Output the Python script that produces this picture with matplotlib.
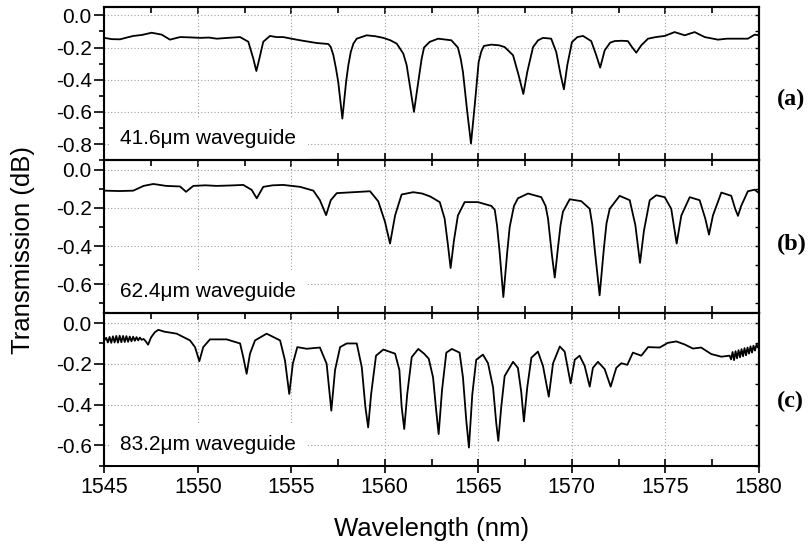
import matplotlib
matplotlib.use("Agg")
import matplotlib.pyplot as plt
from matplotlib.ticker import MultipleLocator

# ---- data (wavelength nm, transmission dB) ----
wl_a = [1545.00, 1545.40, 1545.84, 1546.20, 1546.55, 1547.00, 1547.53, 1548.07, 1548.51, 1549.05,
        1549.60, 1550.12, 1550.60, 1551.01, 1551.60, 1552.26, 1552.70, 1552.97, 1553.13, 1553.29,
        1553.50, 1553.86, 1554.20, 1554.57, 1555.00, 1555.47, 1556.36, 1556.98, 1557.11, 1557.25,
        1557.39, 1557.51, 1557.73, 1557.93, 1558.05, 1558.18, 1558.32, 1558.50, 1559.03, 1559.50,
        1559.92, 1560.30, 1560.64, 1560.99, 1561.17, 1561.31, 1561.56, 1561.79, 1561.97, 1562.10,
        1562.40, 1562.85, 1563.56, 1563.91, 1564.06, 1564.18, 1564.41, 1564.61, 1564.81, 1565.02,
        1565.16, 1565.30, 1565.70, 1566.10, 1566.41, 1566.86, 1567.16, 1567.41, 1567.62, 1567.93,
        1568.20, 1568.46, 1568.90, 1569.17, 1569.41, 1569.58, 1569.76, 1570.01, 1570.30, 1570.60,
        1571.04, 1571.31, 1571.52, 1571.76, 1572.05, 1572.29, 1572.65, 1573.00, 1573.22, 1573.45,
        1573.72, 1574.08, 1574.50, 1574.97, 1575.50, 1576.04, 1576.57, 1577.11, 1577.82, 1578.30,
        1578.71, 1579.42, 1579.78, 1580.00]
tr_a = [-0.140, -0.148, -0.149, -0.138, -0.128, -0.122, -0.108, -0.120, -0.151, -0.135,
        -0.137, -0.140, -0.138, -0.145, -0.140, -0.135, -0.164, -0.270, -0.346, -0.270,
        -0.164, -0.128, -0.135, -0.135, -0.145, -0.155, -0.172, -0.178, -0.197, -0.248,
        -0.331, -0.414, -0.642, -0.414, -0.310, -0.228, -0.176, -0.145, -0.124, -0.130,
        -0.140, -0.155, -0.176, -0.238, -0.310, -0.414, -0.600, -0.414, -0.270, -0.200,
        -0.165, -0.145, -0.155, -0.200, -0.270, -0.352, -0.600, -0.797, -0.559, -0.290,
        -0.225, -0.190, -0.182, -0.186, -0.197, -0.248, -0.373, -0.489, -0.352, -0.197,
        -0.155, -0.140, -0.145, -0.228, -0.373, -0.460, -0.310, -0.166, -0.135, -0.128,
        -0.160, -0.248, -0.325, -0.218, -0.170, -0.160, -0.158, -0.160, -0.197, -0.232,
        -0.186, -0.145, -0.135, -0.128, -0.104, -0.124, -0.104, -0.135, -0.151, -0.145,
        -0.145, -0.145, -0.120, -0.124]

wl_b = [1545.04, 1545.80, 1546.55, 1547.10, 1547.62, 1548.30, 1549.05, 1549.37, 1549.76, 1550.40,
        1551.01, 1551.70, 1552.43, 1552.88, 1553.15, 1553.50, 1554.00, 1554.57, 1555.47, 1556.18,
        1556.53, 1556.86, 1557.11, 1557.43, 1558.32, 1559.21, 1559.65, 1560.01, 1560.28, 1560.55,
        1560.90, 1561.52, 1562.00, 1562.42, 1562.94, 1563.20, 1563.38, 1563.52, 1563.70, 1563.91,
        1564.27, 1564.98, 1565.70, 1565.88, 1566.00, 1566.14, 1566.34, 1566.55, 1566.68, 1566.91,
        1567.12, 1567.66, 1568.37, 1568.60, 1568.73, 1568.94, 1569.09, 1569.26, 1569.40, 1569.53,
        1569.89, 1570.51, 1570.96, 1571.10, 1571.22, 1571.49, 1571.72, 1571.86, 1572.03, 1572.56,
        1573.10, 1573.40, 1573.65, 1573.86, 1574.17, 1574.52, 1574.97, 1575.32, 1575.61, 1575.86,
        1576.31, 1576.84, 1577.14, 1577.34, 1577.55, 1578.00, 1578.53, 1578.74, 1578.89, 1579.06,
        1579.42, 1579.78, 1580.00]
tr_b = [-0.110, -0.112, -0.110, -0.085, -0.075, -0.085, -0.088, -0.116, -0.085, -0.082,
        -0.085, -0.083, -0.080, -0.106, -0.150, -0.090, -0.082, -0.080, -0.090, -0.110,
        -0.160, -0.238, -0.160, -0.123, -0.118, -0.113, -0.166, -0.273, -0.387, -0.240,
        -0.130, -0.118, -0.125, -0.140, -0.170, -0.256, -0.396, -0.515, -0.370, -0.240,
        -0.170, -0.170, -0.190, -0.210, -0.290, -0.430, -0.667, -0.430, -0.300, -0.190,
        -0.150, -0.125, -0.144, -0.190, -0.256, -0.448, -0.565, -0.410, -0.290, -0.220,
        -0.155, -0.165, -0.205, -0.290, -0.410, -0.658, -0.410, -0.280, -0.205, -0.137,
        -0.160, -0.290, -0.488, -0.320, -0.160, -0.134, -0.144, -0.205, -0.387, -0.240,
        -0.144, -0.160, -0.256, -0.340, -0.240, -0.120, -0.137, -0.205, -0.242, -0.190,
        -0.113, -0.105, -0.122]

wl_c = [1545.00, 1545.10, 1545.19, 1545.28, 1545.37, 1545.46, 1545.55, 1545.64, 1545.73, 1545.82,
        1545.91, 1546.00, 1546.09, 1546.18, 1546.27, 1546.36, 1546.45, 1546.54, 1546.63, 1546.72,
        1546.81, 1546.90, 1546.99, 1547.10, 1547.22, 1547.34, 1547.50, 1547.70, 1547.89, 1548.20,
        1548.87, 1549.58, 1549.85, 1550.08, 1550.29, 1550.65, 1551.54, 1552.26, 1552.43, 1552.61,
        1552.79, 1553.06, 1553.68, 1554.40, 1554.66, 1554.89, 1555.08, 1555.32, 1555.82, 1556.53,
        1556.89, 1557.14, 1557.34, 1557.61, 1557.96, 1558.50, 1558.77, 1558.96, 1559.11, 1559.27,
        1559.53, 1559.92, 1560.55, 1560.78, 1560.90, 1561.04, 1561.20, 1561.44, 1561.79, 1562.10,
        1562.35, 1562.58, 1562.75, 1562.88, 1563.06, 1563.29, 1563.59, 1564.00, 1564.18, 1564.36,
        1564.50, 1564.68, 1564.89, 1565.25, 1565.52, 1565.79, 1565.96, 1566.07, 1566.23, 1566.41,
        1566.86, 1567.12, 1567.30, 1567.44, 1567.62, 1567.84, 1568.19, 1568.46, 1568.77, 1569.00,
        1569.36, 1569.62, 1569.94, 1570.16, 1570.42, 1570.69, 1570.96, 1571.13, 1571.40, 1571.76,
        1572.08, 1572.38, 1572.65, 1572.97, 1573.27, 1573.72, 1574.08, 1574.70, 1575.14, 1575.59,
        1576.04, 1576.48, 1576.92, 1577.46, 1578.00, 1578.44, 1578.52, 1578.60, 1578.68, 1578.76,
        1578.84, 1578.92, 1579.00, 1579.08, 1579.16, 1579.24, 1579.32, 1579.40, 1579.48, 1579.56,
        1579.64, 1579.72, 1579.80, 1579.88, 1579.96, 1580.00]
tr_c = [-0.085, -0.072, -0.095, -0.068, -0.097, -0.065, -0.095, -0.063, -0.096, -0.062,
        -0.094, -0.063, -0.093, -0.064, -0.092, -0.066, -0.089, -0.067, -0.087, -0.069,
        -0.085, -0.071, -0.082, -0.078, -0.090, -0.106, -0.070, -0.045, -0.033, -0.042,
        -0.052, -0.085, -0.118, -0.187, -0.118, -0.080, -0.080, -0.100, -0.167, -0.249,
        -0.150, -0.085, -0.052, -0.085, -0.183, -0.348, -0.200, -0.118, -0.126, -0.120,
        -0.200, -0.430, -0.230, -0.118, -0.100, -0.100, -0.217, -0.410, -0.512, -0.348,
        -0.160, -0.130, -0.150, -0.230, -0.410, -0.520, -0.348, -0.167, -0.127, -0.150,
        -0.175, -0.266, -0.430, -0.545, -0.330, -0.145, -0.127, -0.145, -0.266, -0.480,
        -0.611, -0.350, -0.180, -0.155, -0.197, -0.315, -0.490, -0.578, -0.410, -0.260,
        -0.190, -0.220, -0.340, -0.483, -0.315, -0.170, -0.140, -0.210, -0.361, -0.197,
        -0.115, -0.140, -0.296, -0.180, -0.160, -0.210, -0.312, -0.220, -0.190, -0.226,
        -0.312, -0.220, -0.197, -0.205, -0.145, -0.160, -0.118, -0.120, -0.097, -0.090,
        -0.105, -0.125, -0.120, -0.152, -0.165, -0.160, -0.178, -0.142, -0.182, -0.138,
        -0.173, -0.133, -0.168, -0.128, -0.163, -0.123, -0.158, -0.120, -0.150, -0.114,
        -0.145, -0.111, -0.135, -0.106, -0.120, -0.100]

labels = ["41.6\u03bcm waveguide", "62.4\u03bcm waveguide", "83.2\u03bcm waveguide"]
tags = ["(a)", "(b)", "(c)"]
ylims = [(-0.9, 0.05), (-0.75, 0.05), (-0.7, 0.05)]
tag_y = [0.40, 0.445, 0.42]

plt.rcParams['font.family'] = ['Liberation Sans', 'DejaVu Sans']

fig, axes = plt.subplots(3, 1, sharex=True, figsize=(8.12, 5.5), dpi=100,
                         gridspec_kw=dict(hspace=0))
fig.subplots_adjust(left=0.1285, right=0.9344, top=0.9867, bottom=0.1533)

series = [(wl_a, tr_a), (wl_b, tr_b), (wl_c, tr_c)]
for i, ax in enumerate(axes):
    x, y = series[i]
    ax.plot(x, y, color='black', lw=1.3, zorder=4)
    ax.set_xlim(1545, 1580)
    ax.set_ylim(*ylims[i])
    ax.yaxis.set_major_locator(MultipleLocator(0.2))
    ax.yaxis.set_minor_locator(MultipleLocator(0.1))
    ax.xaxis.set_major_locator(MultipleLocator(5))
    ax.xaxis.set_minor_locator(MultipleLocator(2.5))
    ax.yaxis.set_major_formatter(plt.FuncFormatter(lambda v, p: f"{v:.1f}"))
    ax.grid(True, which='major', color='#a0a0a0', linestyle=(0, (1, 2)), lw=0.8)
    for s in ax.spines.values():
        s.set_linewidth(1.5)
    ax.tick_params(axis='y', which='major', direction='out', length=7, width=1.2,
                   labelsize=15, pad=2)
    ax.tick_params(axis='y', which='minor', direction='out', length=3.5, width=1.2)
    ax.tick_params(axis='x', which='major', direction='inout', length=10, width=1.2,
                   labelsize=15.5)
    ax.tick_params(axis='x', which='minor', direction='in', length=5, width=1.2)

    sy = ax.secondary_yaxis('right')
    sy.yaxis.set_major_locator(MultipleLocator(0.1))
    sy.tick_params(direction='in', length=3, width=1.0, labelright=False)
    sy.spines['right'].set_linewidth(1.5)
    sx = ax.secondary_xaxis('top')
    sx.xaxis.set_major_locator(MultipleLocator(5))
    sx.xaxis.set_minor_locator(MultipleLocator(2.5))
    sx.tick_params(which='major', direction='in', length=5, width=1.2, labeltop=False)
    sx.tick_params(which='minor', direction='in', length=4, width=1.2)
    sx.spines['top'].set_linewidth(1.5)

    ax.text(0.024, 0.105, labels[i], transform=ax.transAxes, fontsize=15, ha='left',
            va='baseline', zorder=3,
            bbox=dict(boxstyle='square,pad=0.55', facecolor='white', edgecolor='none'))
    ax.text(1.028, tag_y[i], tags[i], transform=ax.transAxes, fontsize=17.5, fontweight='bold',
            family='Liberation Serif', ha='left', va='center')

for ax in axes[:2]:
    ax.tick_params(axis='x', labelbottom=False)

axes[2].set_xlabel("Wavelength (nm)", fontsize=18.5, labelpad=13)
fig.text(23 / 812, 1 - 250 / 550, "Transmission (dB)", rotation=90, fontsize=18.5,
         ha='center', va='center')

fig.savefig("out.png", dpi=100)
